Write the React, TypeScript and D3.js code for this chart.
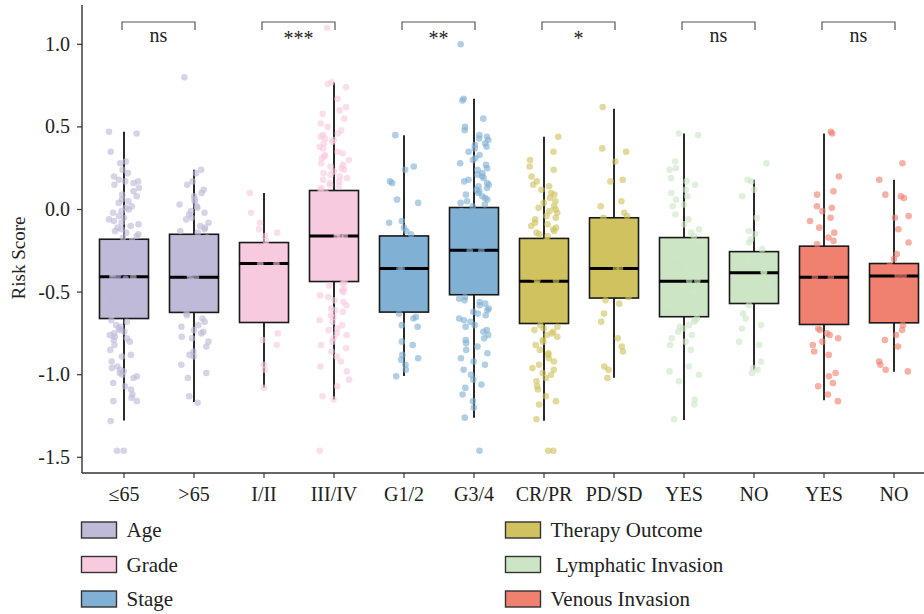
import React from "react";
import * as d3 from "d3";

const categories = ["≤65", ">65", "I/II", "III/IV", "G1/2", "G3/4", "CR/PR", "PD/SD", "YES", "NO", "YES", "NO"];
const groupOfCategory = [0, 0, 1, 1, 2, 2, 3, 3, 4, 4, 5, 5];
const groupNames = ["Age", "Grade", "Stage", "Therapy Outcome", " Lymphatic Invasion", "Venous Invasion"];
const groupColors = ["#bebad8", "#f8cae0", "#80b0d4", "#d0c25e", "#cce6c5", "#f08070"];
const significance = ["ns", "***", "**", "*", "ns", "ns"];

const whiskerHigh = [0.47, 0.24, 0.10, 0.77, 0.45, 0.67, 0.44, 0.61, 0.46, 0.18, 0.46, 0.18];
const q3 = [-0.18, -0.15, -0.20, 0.115, -0.16, 0.012, -0.175, -0.05, -0.17, -0.255, -0.222, -0.327];
const median = [-0.407, -0.41, -0.327, -0.161, -0.357, -0.246, -0.434, -0.357, -0.434, -0.383, -0.41, -0.403];
const q1 = [-0.66, -0.623, -0.684, -0.436, -0.621, -0.516, -0.69, -0.536, -0.649, -0.569, -0.696, -0.686];
const whiskerLow = [-1.277, -1.166, -1.077, -1.15, -1.008, -1.26, -1.278, -1.018, -1.274, -0.968, -1.154, -0.982];

const ptsAgeLow = [0.47, 0.46, 0.35, 0.29, 0.28, 0.24, 0.22, 0.20, 0.18, 0.17, 0.17, 0.16, 0.15, 0.13, 0.11, 0.09, 0.08, 0.06, 0.05, 0.04, 0.02, 0.01, 0.00, -0.01, -0.02, -0.04, -0.05, -0.06, -0.07, -0.08, -0.09, -0.10, -0.11, -0.12, -0.13, -0.14, -0.15, -0.16, -0.17,
  -0.19, -0.21, -0.23, -0.25, -0.27, -0.29, -0.31, -0.33, -0.35, -0.37, -0.39, -0.40, -0.41, -0.41, -0.42, -0.44, -0.46, -0.48, -0.50, -0.52, -0.54, -0.56, -0.58, -0.60, -0.62, -0.64,
  -0.67, -0.68, -0.70, -0.71, -0.72, -0.73, -0.74, -0.75, -0.76, -0.77, -0.78, -0.79, -0.80, -0.82, -0.85, -0.88, -0.89, -0.92, -0.95, -0.96, -0.97, -0.98, -0.99, -1.00, -1.01, -1.02, -1.05, -1.07, -1.09, -1.12, -1.14, -1.16, -1.16, -1.28, -1.46, -1.46];
const ptsAgeHigh = [0.80, 0.24, 0.22, 0.17, 0.15, 0.12, 0.10, 0.08, 0.06, 0.05, 0.03, 0.02, 0.01, -0.01, -0.02, -0.03, -0.05, -0.06, -0.08, -0.10, -0.11, -0.12, -0.13, -0.14,
  -0.17, -0.20, -0.24, -0.28, -0.32, -0.36, -0.39, -0.41, -0.41, -0.43, -0.47, -0.51, -0.55, -0.59,
  -0.63, -0.64, -0.66, -0.68, -0.70, -0.71, -0.73, -0.74, -0.75, -0.77, -0.78, -0.80, -0.83, -0.86, -0.88, -0.89, -0.94, -0.99, -1.02, -1.13, -1.17];
const ptsGradeLow = [0.10, -0.02, -0.08, -0.12, -0.14, -0.16, -0.19, -0.22, -0.26, -0.30, -0.33, -0.33, -0.40, -0.48, -0.55, -0.62, -0.75, -0.79, -0.82, -0.94, -0.97, -1.08];
const ptsGradeHigh = [1.10, 0.77, 0.76, 0.74, 0.67, 0.62, 0.60, 0.58, 0.55, 0.52, 0.50, 0.48, 0.46, 0.45, 0.44, 0.43, 0.42, 0.41, 0.40, 0.38, 0.37, 0.35, 0.34, 0.33, 0.32, 0.31, 0.30, 0.28, 0.27, 0.26, 0.25, 0.24, 0.23, 0.22, 0.21, 0.20, 0.19, 0.18, 0.17, 0.16, 0.15, 0.14, 0.13, 0.12,
  0.10, 0.07, 0.04, 0.01, -0.02, -0.05, -0.08, -0.11, -0.14, -0.16, -0.16, -0.17, -0.20, -0.23, -0.26, -0.29, -0.32, -0.35, -0.38, -0.41,
  -0.44, -0.45, -0.46, -0.48, -0.49, -0.50, -0.52, -0.53, -0.55, -0.56, -0.58, -0.60, -0.61, -0.62, -0.64, -0.65, -0.67, -0.68, -0.70, -0.72, -0.73, -0.75, -0.76, -0.78, -0.80, -0.82, -0.84, -0.86, -0.89, -0.92, -0.95, -0.98, -1.03, -1.07, -1.13, -1.15, -1.46];
const ptsStageLow = [0.45, 0.26, 0.24, 0.17, 0.16, 0.06, 0.04, -0.07, -0.08, -0.11, -0.13, -0.15, -0.22, -0.30, -0.36, -0.36, -0.45, -0.55, -0.63, -0.65, -0.66, -0.70, -0.71, -0.80, -0.82, -0.88, -0.90, -0.91, -0.94, -0.97, -1.01];
const ptsStageHigh = [1.00, 0.67, 0.66, 0.55, 0.50, 0.48, 0.45, 0.44, 0.43, 0.42, 0.40, 0.39, 0.38, 0.37, 0.35, 0.33, 0.31, 0.30, 0.28, 0.27, 0.25, 0.24, 0.22, 0.21, 0.20, 0.19, 0.18, 0.17, 0.16, 0.15, 0.14, 0.13, 0.12, 0.11, 0.10, 0.09, 0.08, 0.07, 0.06, 0.05, 0.04, 0.03, 0.02,
  -0.01, -0.04, -0.07, -0.10, -0.13, -0.16, -0.19, -0.22, -0.25, -0.25, -0.28, -0.31, -0.34, -0.37, -0.40, -0.43, -0.46, -0.49,
  -0.53, -0.54, -0.55, -0.56, -0.57, -0.58, -0.60, -0.61, -0.62, -0.63, -0.64, -0.66, -0.67, -0.68, -0.70, -0.71, -0.73, -0.74, -0.76, -0.78, -0.79, -0.81, -0.83, -0.85, -0.87, -0.90, -0.92, -0.94, -0.97, -1.00, -1.03, -1.06, -1.08, -1.12, -1.16, -1.20, -1.26, -1.46];
const ptsTherapyCR = [0.44, 0.35, 0.30, 0.26, 0.24, 0.20, 0.17, 0.15, 0.14, 0.12, 0.10, 0.09, 0.07, 0.05, 0.04, 0.02, 0.01, 0.00, -0.01, -0.02, -0.04, -0.05, -0.06, -0.08, -0.09, -0.10, -0.11, -0.12, -0.13, -0.14, -0.15, -0.16,
  -0.19, -0.22, -0.26, -0.30, -0.34, -0.38, -0.41, -0.43, -0.43, -0.45, -0.49, -0.53, -0.57, -0.61, -0.65,
  -0.70, -0.71, -0.72, -0.73, -0.74, -0.75, -0.76, -0.77, -0.79, -0.80, -0.82, -0.85, -0.87, -0.88, -0.90, -0.92, -0.94, -0.96, -0.97, -0.99, -1.00, -1.02, -1.04, -1.07, -1.09, -1.13, -1.16, -1.18, -1.27, -1.46, -1.46];
const ptsTherapyPD = [0.62, 0.37, 0.35, 0.29, 0.18, 0.17, 0.05, 0.02, -0.02, -0.04, -0.05, -0.10, -0.15, -0.22, -0.30, -0.36, -0.36, -0.42, -0.48, -0.53, -0.55, -0.57, -0.63, -0.68, -0.78, -0.83, -0.86, -0.95, -0.97, -1.02];
const ptsLymphYes = [0.46, 0.45, 0.29, 0.25, 0.24, 0.19, 0.17, 0.15, 0.12, 0.10, 0.08, 0.06, 0.03, 0.02, -0.03, -0.06, -0.09, -0.12, -0.14, -0.16, -0.20, -0.28, -0.36, -0.43, -0.43, -0.50, -0.58, -0.66, -0.67, -0.68, -0.70, -0.71, -0.72, -0.74, -0.76, -0.78, -0.80, -0.82, -0.85, -0.95, -0.98, -1.00, -1.04, -1.15, -1.18, -1.27];
const ptsLymphNo = [0.28, 0.18, 0.17, 0.12, 0.08, -0.05, -0.13, -0.15, -0.18, -0.20, -0.24, -0.30, -0.38, -0.38, -0.45, -0.52, -0.58, -0.63, -0.66, -0.70, -0.72, -0.80, -0.82, -0.92, -0.96, -0.97, -0.99];
const ptsVenousYes = [0.47, 0.46, 0.20, 0.11, 0.09, 0.02, 0.01, -0.01, -0.05, -0.07, -0.11, -0.14, -0.17, -0.19, -0.21, -0.25, -0.32, -0.41, -0.41, -0.48, -0.56, -0.64, -0.72, -0.73, -0.75, -0.76, -0.78, -0.80, -0.82, -0.86, -0.88, -0.99, -1.01, -1.05, -1.07, -1.12, -1.16];
const ptsVenousNo = [0.28, 0.18, 0.09, 0.08, 0.07, -0.04, -0.05, -0.12, -0.20, -0.27, -0.30, -0.34, -0.40, -0.40, -0.45, -0.55, -0.62, -0.70, -0.73, -0.76, -0.79, -0.83, -0.92, -0.94, -0.97, -0.98];

const pointSets = [ptsAgeLow, ptsAgeHigh, ptsGradeLow, ptsGradeHigh, ptsStageLow, ptsStageHigh, ptsTherapyCR, ptsTherapyPD, ptsLymphYes, ptsLymphNo, ptsVenousYes, ptsVenousNo];

const yTicks = [-1.5, -1.0, -0.5, 0.0, 0.5, 1.0];

const W = 924, H = 614;
const FONT = "'Liberation Serif', 'DejaVu Serif', serif";

// deterministic horizontal jitter offset in [-0.5, 0.5) (layout only)
function jitterFrac(i: number, j: number) {
  const s = Math.sin(j * 12.9898 + i * 78.233) * 43758.5453;
  return s - Math.floor(s) - 0.5;
}

export default function App() {
  const y = d3.scaleLinear().domain([-1.5, 1.0]).range([457.3, 44.3]);
  const x = d3.scalePoint<number>().domain(d3.range(categories.length)).range([124, 894]);
  const boxW = 49;
  const jitter = 15;
  const axisLeftX = 82;
  const axisBottomY = 473;

  return (
    <svg width={W} height={H} style={{ position: "absolute", left: 0, top: 0, background: "#fff" }} fontFamily={FONT}>
      {categories.map((c, i) => {
        const cx = x(i)!;
        const col = groupColors[groupOfCategory[i]];
        return (
          <g key={"b" + i}>
            <line x1={cx} x2={cx} y1={y(whiskerHigh[i])} y2={y(whiskerLow[i])} stroke="#2a2a2a" strokeWidth={2} />
            <rect x={cx - boxW / 2} y={y(q3[i])} width={boxW} height={y(q1[i]) - y(q3[i])} fill={col} stroke="#1a1a1a" strokeWidth={1.6} />
            <line x1={cx - boxW / 2} x2={cx + boxW / 2} y1={y(median[i])} y2={y(median[i])} stroke="#000" strokeWidth={3} />
          </g>
        );
      })}
      {pointSets.map((vals, i) => {
        const cx = x(i)!;
        const col = groupColors[groupOfCategory[i]];
        return (
          <g key={"p" + i} fill={col} fillOpacity={0.62}>
            {vals.map((v, j) => (
              <circle key={j} cx={cx + jitterFrac(i, j) * 2 * jitter} cy={y(v)} r={3.3} />
            ))}
          </g>
        );
      })}
      {significance.map((s, k) => {
        const x1 = x(2 * k)! - 2;
        const x2 = x(2 * k + 1)! + 1;
        return (
          <g key={"s" + k}>
            <path d={`M${x1},30V22H${x2}V30`} fill="none" stroke="#555" strokeWidth={1.2} />
            <text x={(x1 + x2) / 2} y={s === "ns" ? 42 : 45} textAnchor="middle" fontSize={20} fill="#222">{s}</text>
          </g>
        );
      })}
      <line x1={axisLeftX} x2={axisLeftX} y1={5} y2={axisBottomY} stroke="#333" strokeWidth={1.4} />
      <line x1={axisLeftX} x2={W} y1={axisBottomY} y2={axisBottomY} stroke="#333" strokeWidth={1.4} />
      {yTicks.map((t) => (
        <g key={"yt" + t}>
          <line x1={axisLeftX - 5} x2={axisLeftX} y1={y(t)} y2={y(t)} stroke="#333" strokeWidth={1.2} />
          <text x={70} y={y(t) + 6.5} textAnchor="end" fontSize={20} fill="#222">{t.toFixed(1)}</text>
        </g>
      ))}
      {categories.map((c, i) => (
        <g key={"xt" + i}>
          <line x1={x(i)!} x2={x(i)!} y1={axisBottomY} y2={axisBottomY + 5} stroke="#333" strokeWidth={1.2} />
          <text x={x(i)!} y={500.5} textAnchor="middle" fontSize={20} fill="#222">{c}</text>
        </g>
      ))}
      <text transform="translate(25,258) rotate(-90)" textAnchor="middle" fontSize={19} fill="#222">Risk Score</text>
      {groupNames.map((g, k) => {
        const col = k < 3 ? 0 : 1;
        const row = k % 3;
        const sx = col === 0 ? 81.5 : 505.5;
        const cy = [530, 564.5, 599][row];
        return (
          <g key={"l" + k}>
            <rect x={sx} y={cy - 8} width={35} height={16} fill={groupColors[k]} stroke="#333" strokeWidth={1.4} />
            <text x={sx + 45} y={cy + 7} fontSize={21} fill="#222" style={{ whiteSpace: "pre" }}>{g}</text>
          </g>
        );
      })}
    </svg>
  );
}
